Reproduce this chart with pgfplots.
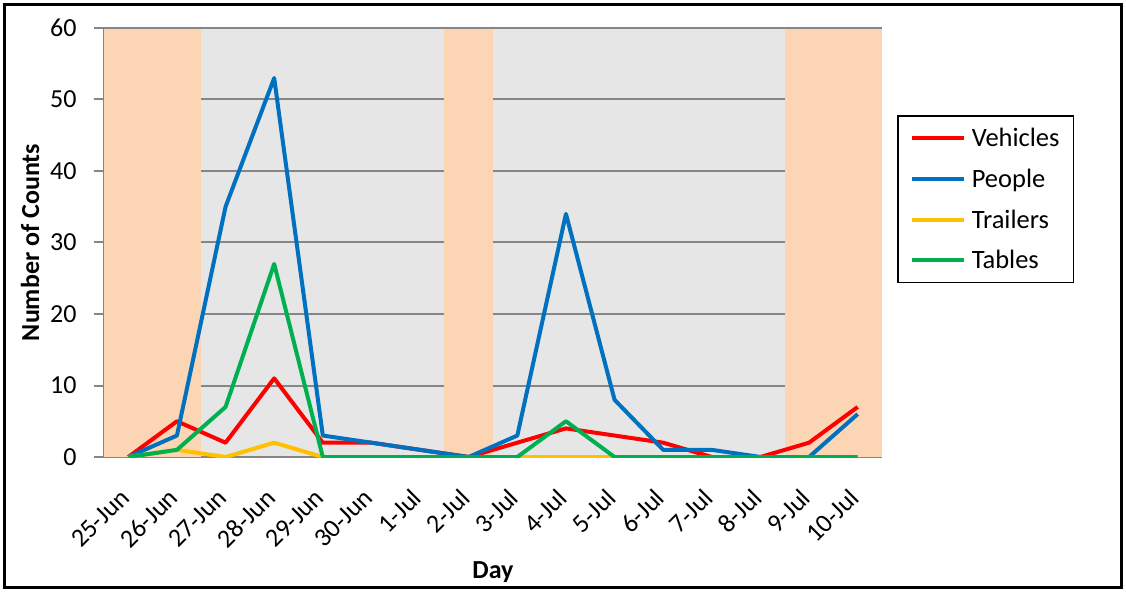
\documentclass[border=0pt]{standalone}
\usepackage{pgfplots}
\pgfplotsset{compat=1.18}
\usepackage{fontspec}
\setmainfont{Carlito}
\definecolor{peach}{HTML}{FCD5B5}
\definecolor{bggray}{HTML}{E6E6E6}
\definecolor{gridgray}{HTML}{868686}
\definecolor{cred}{HTML}{FF0000}
\definecolor{cblue}{HTML}{0070C0}
\definecolor{cyellow}{HTML}{FFC000}
\definecolor{cgreen}{HTML}{00B050}
\begin{document}
\begin{tikzpicture}[x=1pt,y=1pt]
\begin{axis}[
  at={(104pt,135pt)}, anchor=south west,
  scale only axis, width=778pt, height=429pt,
  set layers,
  xmin=-0.5, xmax=15.5, ymin=0, ymax=60,
  axis background/.style={fill=bggray},
  axis x line*=bottom, axis y line*=left,
  axis line style={gridgray, line width=2pt},
  ytick={0,10,...,60},
  ymajorgrids, grid style={gridgray, line width=2pt},
  xtick={0,...,15},
  xticklabels={25-Jun,26-Jun,27-Jun,28-Jun,29-Jun,30-Jun,1-Jul,2-Jul,3-Jul,4-Jul,5-Jul,6-Jul,7-Jul,8-Jul,9-Jul,10-Jul},
  x tick style={draw=none},
  y tick style={gridgray, line width=2pt},
  tick align=outside,
  major tick length=10pt,
  /pgf/number format/assume math mode=true,
  ticklabel style={font=\fontsize{26}{30}\selectfont},
  yticklabel style={xshift=-14pt},
  xticklabel style={xshift=-1pt, yshift=-24pt, rotate=45, anchor=east},
  xlabel={Day}, ylabel={Number of Counts},
  label style={font=\bfseries\fontsize{26}{30}\selectfont},
  ylabel style={at={(axis description cs:-0.0951,0.5)}, anchor=center},
  xlabel style={at={(axis description cs:0.5,-0.268)}, anchor=center},
  legend style={at={(1.0193,0.797)}, anchor=north west, draw=black, line width=1.5pt,
    font=\fontsize{26.5}{30}\selectfont, row sep=17pt, cells={anchor=west},
    inner xsep=12pt, inner ysep=10pt,
    /tikz/every odd column/.append style={column sep=4pt}},
  legend image code/.code={\draw[#1] (0pt,0pt) -- (52pt,0pt);},
]
\addplot[fill=peach, draw=none, forget plot] coordinates {(-0.5,60) (1.5,60)} \closedcycle;
\addplot[fill=peach, draw=none, forget plot] coordinates {(6.5,60) (7.5,60)} \closedcycle;
\addplot[fill=peach, draw=none, forget plot] coordinates {(13.5,60) (15.5,60)} \closedcycle;
\addplot[gridgray, line width=2pt, forget plot] coordinates {(-0.5,60) (15.5,60)};
\addplot[cred, line width=4pt, line join=round] coordinates {(0,0) (1,5) (2,2) (3,11) (4,2) (5,2) (6,1) (7,0) (8,2) (9,4) (10,3) (11,2) (12,0) (13,0) (14,2) (15,7)};
\addplot[cblue, line width=4pt, line join=round] coordinates {(0,0) (1,3) (2,35) (3,53) (4,3) (5,2) (6,1) (7,0) (8,3) (9,34) (10,8) (11,1) (12,1) (13,0) (14,0) (15,6)};
\addplot[cyellow, line width=4pt, line join=round] coordinates {(0,0) (1,1) (2,0) (3,2) (4,0) (5,0) (6,0) (7,0) (8,0) (9,0) (10,0) (11,0) (12,0) (13,0) (14,0) (15,0)};
\addplot[cgreen, line width=4pt, line join=round] coordinates {(0,0) (1,1) (2,7) (3,27) (4,0) (5,0) (6,0) (7,0) (8,0) (9,5) (10,0) (11,0) (12,0) (13,0) (14,0) (15,0)};
\legend{Vehicles, People, Trailers, Tables}
\end{axis}
\draw[black, line width=3pt] (4.5,4.5) rectangle (1121.5,587.5);
\path (0,0) rectangle (1126,592);
\end{tikzpicture}
\end{document}
